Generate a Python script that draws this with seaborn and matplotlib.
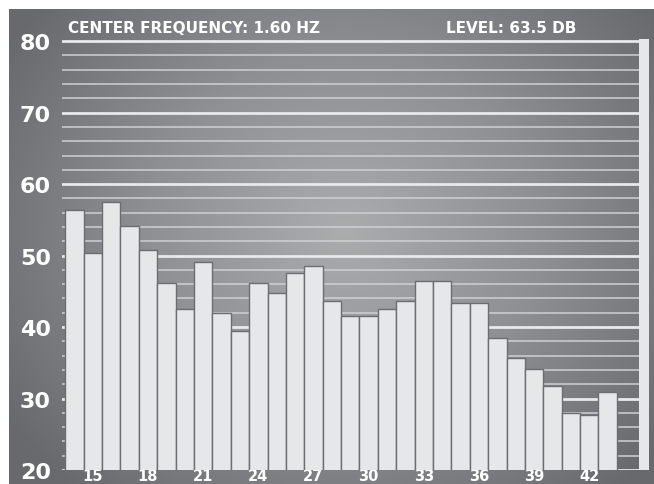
import matplotlib
matplotlib.use("Agg")
import matplotlib.pyplot as plt
from matplotlib.colors import LinearSegmentedColormap
import numpy as np
import pandas as pd
import seaborn as sns

# band index (x) and level in dB (y)
freqs = list(range(14, 44))
levels = [56.4, 50.4, 57.5, 54.2, 50.8, 46.2, 42.5, 49.1, 42.0, 39.5,
          46.1, 44.8, 47.5, 48.6, 43.7, 41.6, 41.6, 42.5, 43.7, 46.5,
          46.5, 43.4, 43.4, 38.5, 35.6, 34.2, 31.7, 28.0, 27.7, 30.9]
tick_freqs = [15, 18, 21, 24, 27, 30, 33, 36, 39, 42]
y_major = [20, 30, 40, 50, 60, 70, 80]
y_minor = list(range(22, 80, 2))
title_left = "CENTER FREQUENCY: 1.60 HZ"
title_right = "LEVEL: 63.5 DB"

BAR_FILL = "#e6e7e9"
BAR_EDGE = "#6c6d71"
GRID_MINOR = "#cfd0d3"
GRID_MAJOR = "#e9e9eb"

df = pd.DataFrame({"freq": freqs, "level": levels})

sns.set_theme(style="white")
plt.rcParams["font.family"] = ["DejaVu Sans"]

W, H = 654, 485
fig = plt.figure(figsize=(W / 100, H / 100), dpi=100, facecolor="white")

# gray panel with a soft radial highlight
bg = fig.add_axes([9 / W, 0, (W - 9) / W, (H - 10) / H])
bg.set_axis_off()
gx, gy = np.meshgrid(np.linspace(0, 1, 400), np.linspace(0, 1, 300))
r = np.sqrt(((gx - 0.52) / 0.62) ** 2 + ((gy - 0.47) / 0.75) ** 2)
cmap = LinearSegmentedColormap.from_list("panel", ["#abacae", "#8e8f92", "#68696d"])
bg.imshow(np.clip(r, 0, 1), cmap=cmap, aspect="auto", extent=(0, 1, 0, 1),
          vmin=0, vmax=1, interpolation="bilinear")

ax = fig.add_axes([62 / W, 14 / H, 587 / W, 431 / H])
ax.patch.set_alpha(0)

sns.barplot(data=df, x="freq", y="level", color=BAR_FILL, saturation=1,
            edgecolor=BAR_EDGE, linewidth=1.0, width=1.0, ax=ax, zorder=2)

n = len(freqs)
ax.set_xlim(-0.68, n + 1.25)
ax.set_ylim(20, 80.3)

# light strip at the right edge of the scale
ax.axvspan(n + 0.72, n + 1.25, color=BAR_FILL, zorder=1.5, lw=0)

ax.set_yticks(y_major)
ax.set_yticks(y_minor, minor=True)
ax.yaxis.grid(True, which="major", color=GRID_MAJOR, linewidth=2.0)
ax.yaxis.grid(True, which="minor", color=GRID_MINOR, linewidth=1.1)
ax.set_axisbelow(True)

tick_idx = [freqs.index(f) for f in tick_freqs]
ax.set_xticks(tick_idx, [str(f) for f in tick_freqs])
ax.tick_params(axis="both", which="both", length=0)
ax.tick_params(axis="y", pad=8, labelsize=16, labelcolor="white")
ax.tick_params(axis="x", pad=7.2, labelsize=10.5, labelcolor="white")
for lab in ax.get_yticklabels():
    lab.set_fontweight("bold")
for lab in ax.get_xticklabels():
    lab.set_fontweight("bold")
    lab.set_verticalalignment("baseline")

ax.set_xlabel("")
ax.set_ylabel("")
sns.despine(ax=ax, left=True, bottom=True)

fig.text(68 / W, 1 - 33 / H, title_left, color="white", fontsize=11,
         fontweight="bold", ha="left", va="baseline")
fig.text(446 / W, 1 - 33 / H, title_right, color="white", fontsize=11,
         fontweight="bold", ha="left", va="baseline")

fig.savefig("out.png", dpi=100, facecolor=fig.get_facecolor())
plt.close(fig)
